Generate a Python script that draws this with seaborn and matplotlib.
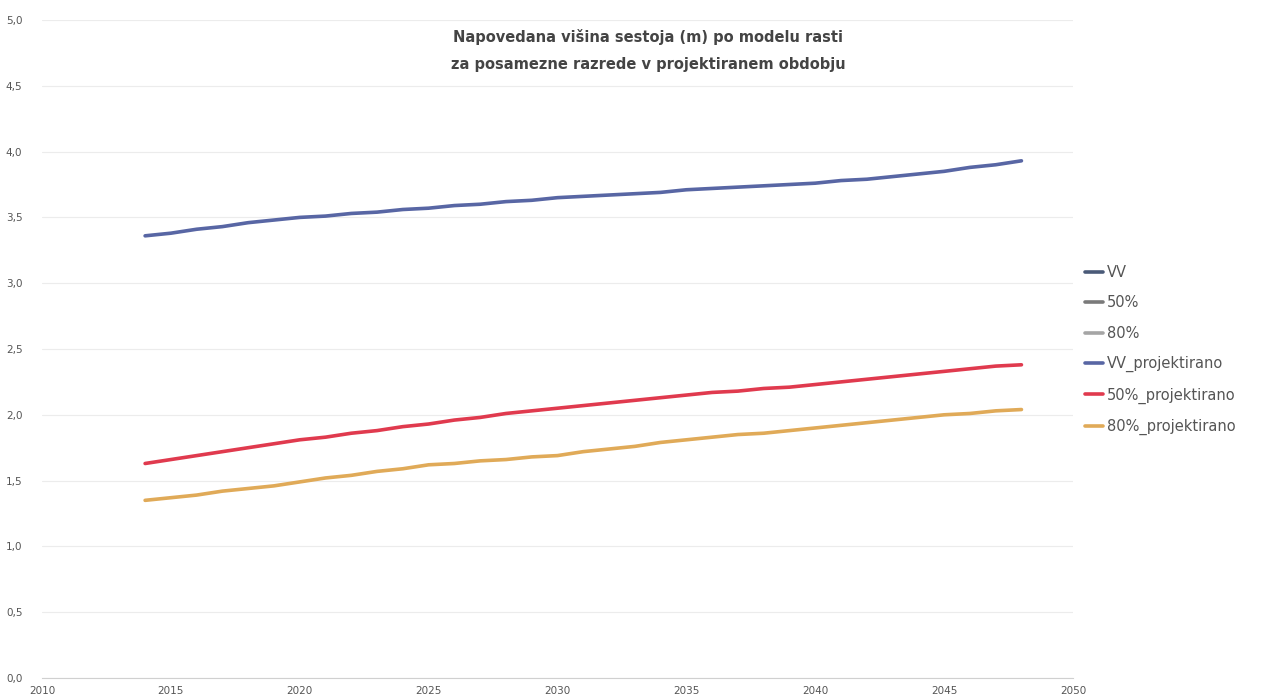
import numpy as np
import pandas as pd
import matplotlib
matplotlib.use("Agg")
import matplotlib.pyplot as plt
import seaborn as sns

# Series names and projected yearly values
years = list(range(2014, 2049))
vv_proj = [3.36, 3.38, 3.41, 3.43, 3.46, 3.48, 3.50, 3.51, 3.53, 3.54,
           3.56, 3.57, 3.59, 3.60, 3.62, 3.63, 3.65, 3.66, 3.67, 3.68,
           3.69, 3.71, 3.72, 3.73, 3.74, 3.75, 3.76, 3.78, 3.79, 3.81,
           3.83, 3.85, 3.88, 3.90, 3.93]
p50_proj = [1.63, 1.66, 1.69, 1.72, 1.75, 1.78, 1.81, 1.83, 1.86, 1.88,
            1.91, 1.93, 1.96, 1.98, 2.01, 2.03, 2.05, 2.07, 2.09, 2.11,
            2.13, 2.15, 2.17, 2.18, 2.20, 2.21, 2.23, 2.25, 2.27, 2.29,
            2.31, 2.33, 2.35, 2.37, 2.38]
p80_proj = [1.35, 1.37, 1.39, 1.42, 1.44, 1.46, 1.49, 1.52, 1.54, 1.57,
            1.59, 1.62, 1.63, 1.65, 1.66, 1.68, 1.69, 1.72, 1.74, 1.76,
            1.79, 1.81, 1.83, 1.85, 1.86, 1.88, 1.90, 1.92, 1.94, 1.96,
            1.98, 2.00, 2.01, 2.03, 2.04]

# Measured values (only the base year is available)
measured_years = [2014]
vv_meas = [3.36]
p50_meas = [1.63]
p80_meas = [1.35]

series_names = ["VV", "50%", "80%", "VV_projektirano", "50%_projektirano", "80%_projektirano"]
series_colors = ["#4a5a78", "#7a7a7a", "#a5a5a5", "#5866a4", "#e03a4e", "#e0aa58"]

x_ticks = list(range(2010, 2051, 5))
y_ticks = [0.0, 0.5, 1.0, 1.5, 2.0, 2.5, 3.0, 3.5, 4.0, 4.5, 5.0]
y_tick_labels = ["0,0", "0,5", "1,0", "1,5", "2,0", "2,5", "3,0", "3,5", "4,0", "4,5", "5,0"]

title_lines = ["Napovedana višina sestoja (m) po modelu rasti",
               "za posamezne razrede v projektiranem obdobju"]

frames = []
for name, xs, vals in [
    ("VV", measured_years, vv_meas),
    ("50%", measured_years, p50_meas),
    ("80%", measured_years, p80_meas),
    ("VV_projektirano", years, vv_proj),
    ("50%_projektirano", years, p50_proj),
    ("80%_projektirano", years, p80_proj),
]:
    frames.append(pd.DataFrame({"leto": xs, "vrednost": vals, "serija": name}))
df = pd.concat(frames, ignore_index=True)

sns.set_theme(style="white")
plt.rcParams["font.family"] = ["DejaVu Sans"]

fig = plt.figure(figsize=(12.86, 7.0), dpi=100)
ax = fig.add_axes([42 / 1286, 22 / 700, (1073 - 42) / 1286, 658 / 700])

sns.lineplot(data=df, x="leto", y="vrednost", hue="serija",
             hue_order=series_names, palette=dict(zip(series_names, series_colors)),
             linewidth=2.6, ax=ax, legend=True)

ax.set_xlim(2010, 2050)
ax.set_ylim(0, 5)
ax.set_xticks(x_ticks)
ax.set_xticklabels([str(v) for v in x_ticks], fontsize=7.5, color="#555555")
ax.set_yticks(y_ticks)
ax.set_yticklabels(y_tick_labels, fontsize=7.5, color="#555555")
ax.tick_params(axis="x", length=0, pad=6)
ax.tick_params(axis="y", length=0, pad=26)
for lbl in ax.get_yticklabels():
    lbl.set_horizontalalignment("left")
ax.set_xlabel("")
ax.set_ylabel("")
ax.yaxis.grid(True, color="#ececec", linewidth=0.8)
ax.xaxis.grid(False)
for side in ["top", "right", "left"]:
    ax.spines[side].set_visible(False)
ax.spines["bottom"].set_color("#d0d0d0")
ax.spines["bottom"].set_linewidth(0.8)

handles, labels = ax.get_legend_handles_labels()
ax.legend_.remove()
fig.legend(handles, labels, loc="upper left", bbox_to_anchor=(1072 / 1286, 1 - 252 / 700),
           frameon=False, fontsize=10.5, handlelength=1.2, labelspacing=1.05,
           handletextpad=0.3, labelcolor="#555555")

fig.text(648 / 1286, 1 - 37 / 700, title_lines[0], ha="center", va="center",
         fontsize=10.5, fontweight="bold", color="#444444")
fig.text(648 / 1286, 1 - 65 / 700, title_lines[1], ha="center", va="center",
         fontsize=10.5, fontweight="bold", color="#444444")

fig.savefig("out.png", dpi=100)
